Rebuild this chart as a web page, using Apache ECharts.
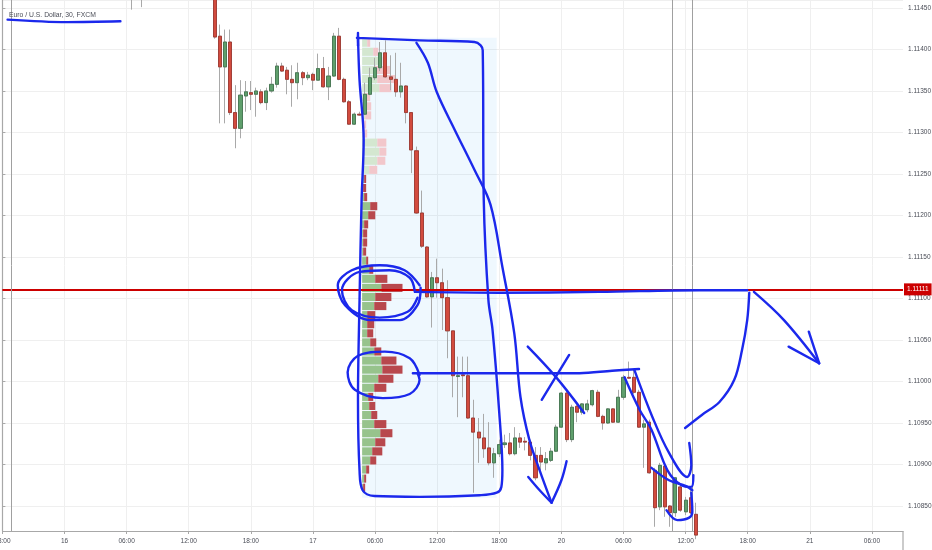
<!DOCTYPE html>
<html><head><meta charset="utf-8">
<script src="https://cdn.jsdelivr.net/npm/echarts@6/dist/echarts.min.js"></script>
<style>html,body{margin:0;padding:0;background:#fff}#c{width:932px;height:550px}</style>
</head><body><div id="c"></div>
<script>
// ---------- data ----------
const title = 'Euro / U.S. Dollar, 30, FXCM';
const barCount = 175;                       // 30-minute slots, 15th 18:00 onward
const tickEvery = 12;                       // one label every 6 hours
const tickLabels = ['18:00','16','06:00','12:00','18:00','17','06:00','12:00','18:00','20','06:00','12:00','18:00','21','06:00'];
const categories = Array.from({length: barCount}, (_, i) => String(i));

const barIdx = [25,27,41,42,43,44,45,46,47,48,49,50,51,52,53,54,55,56,57,58,59,60,61,62,63,64,65,66,67,68,69,70,
  71,72,73,74,75,76,77,78,79,80,81,82,83,84,85,86,87,88,89,90,91,92,93,94,95,96,97,98,99,100,
  101,102,103,104,105,106,107,108,109,110,111,112,113,114,115,116,117,118,119,120,121,122,123,124,125,126,127,128,129,130,131,132,133,134];
const open = [1.11470,1.11462,1.11478,1.11416,1.11379,1.11409,1.11324,1.11305,1.11344,1.11348,1.11346,1.11349,1.11336,1.11350,1.11358,1.11380,1.11375,1.11364,1.11360,1.11372,1.11366,1.11370,1.11363,1.11377,1.11355,1.11368,1.11416,1.11364,1.11337,1.11310,1.11322,1.11322,
  1.11346,1.11366,1.11378,1.11396,1.11367,1.11364,1.11349,1.11356,1.11324,1.11278,1.11203,1.11162,1.11102,1.11125,1.11119,1.11101,1.11061,1.11006,1.11008,1.11007,1.10956,1.10939,1.10932,1.10920,1.10902,1.10913,1.10924,1.10926,1.10913,1.10932,
  1.10928,1.10927,1.10911,1.10911,1.10902,1.10905,1.10916,1.10945,1.10986,1.10930,1.10970,1.10963,1.10966,1.10972,1.10987,1.10958,1.10950,1.10967,1.10951,1.10981,1.11005,1.11005,1.10987,1.10945,1.10951,1.10893,1.10849,1.10898,1.10850,1.10842,1.10873,1.10843,1.10860,1.10840];
const close = [1.11465,1.11470,1.11415,1.11379,1.11409,1.11324,1.11305,1.11345,1.11349,1.11346,1.11350,1.11336,1.11350,1.11358,1.11380,1.11374,1.11364,1.11360,1.11372,1.11366,1.11369,1.11363,1.11377,1.11355,1.11368,1.11416,1.11364,1.11337,1.11310,1.11322,1.11321,1.11346,
  1.11366,1.11378,1.11396,1.11367,1.11364,1.11349,1.11356,1.11324,1.11279,1.11203,1.11163,1.11102,1.11125,1.11119,1.11101,1.11061,1.11007,1.11007,1.11007,1.10956,1.10939,1.10932,1.10919,1.10902,1.10913,1.10924,1.10926,1.10913,1.10932,1.10927,
  1.10927,1.10911,1.10884,1.10903,1.10907,1.10916,1.10945,1.10986,1.10930,1.10969,1.10963,1.10973,1.10973,1.10989,1.10958,1.10950,1.10967,1.10951,1.10981,1.11005,1.11004,1.10987,1.10945,1.10949,1.10890,1.10848,1.10899,1.10849,1.10842,1.10884,1.10845,1.10857,1.10842,1.10815];
const low = [1.11448,1.11451,1.11413,1.11311,1.11311,1.11321,1.11281,1.11293,1.11325,1.11327,1.11319,1.11334,1.11327,1.11348,1.11354,1.11373,1.11346,1.11331,1.11340,1.11357,1.11363,1.11351,1.11363,1.11354,1.11339,1.11367,1.11363,1.11336,1.11309,1.11309,1.11320,1.11321,
  1.11345,1.11363,1.11374,1.11366,1.11351,1.11343,1.11342,1.11311,1.11251,1.11202,1.11161,1.11101,1.11065,1.11101,1.11062,1.11028,1.10981,1.10957,1.10981,1.10955,1.10866,1.10902,1.10908,1.10899,1.10884,1.10909,1.10920,1.10911,1.10911,1.10920,
  1.10917,1.10905,1.10881,1.10893,1.10893,1.10903,1.10915,1.10944,1.10927,1.10927,1.10951,1.10960,1.10963,1.10970,1.10957,1.10942,1.10949,1.10950,1.10950,1.10978,1.11003,1.10985,1.10944,1.10896,1.10889,1.10825,1.10845,1.10837,1.10825,1.10837,1.10843,1.10839,1.10840,1.10810];
const high = [1.11480,1.11478,1.11482,1.11430,1.11424,1.11424,1.11357,1.11363,1.11362,1.11362,1.11354,1.11352,1.11354,1.11367,1.11384,1.11384,1.11379,1.11381,1.11384,1.11374,1.11373,1.11372,1.11395,1.11391,1.11379,1.11420,1.11426,1.11366,1.11339,1.11324,1.11325,1.11360,
  1.11378,1.11390,1.11409,1.11411,1.11393,1.11396,1.11384,1.11357,1.11324,1.11283,1.11230,1.11163,1.11132,1.11148,1.11136,1.11122,1.11061,1.11030,1.11030,1.11030,1.10978,1.10956,1.10961,1.10951,1.10920,1.10930,1.10936,1.10938,1.10945,1.10938,
  1.10933,1.10930,1.10921,1.10921,1.10915,1.10920,1.10948,1.10987,1.10989,1.10972,1.10972,1.10974,1.10978,1.10990,1.10990,1.10960,1.10968,1.10968,1.10990,1.11008,1.11024,1.11014,1.10990,1.10954,1.10954,1.10896,1.10902,1.10899,1.10851,1.10885,1.10875,1.10861,1.10872,1.10854];

const priceMin = 1.108199, priceMax = 1.114596, priceStep = 0.0005;
const levelPrice = 1.11111;

// fixed range volume profile (bars 70..95), 50 rows from the top
const profFirstBar = 70, profLastBar = 95;
const profTop = 1.11413, profRow = 0.0001094, vaHigh = 1.11250;
const profUp   = [500,1100,1600,1200,1500,1700,300,400,300,200,200,1500,1700,1500,700,200,100,200,800,600,200,100,100,100,400,700,1300,1900,1300,1200,500,500,500,800,1200,1900,2000,1600,1200,600,700,900,1200,1800,1300,1000,800,400,200,100];
const profDown = [300,500,400,1600,1800,1200,500,500,600,200,300,900,700,800,800,200,300,300,700,700,400,400,400,300,200,400,1200,2100,1600,1200,800,700,600,600,700,1500,2000,1500,1200,500,600,600,1200,1200,1000,1000,600,300,200,200];
const profWidthShare = 0.3;
const boxTop = 1.11414, boxBottom = 1.10860;

const vLines = [1.7, 129.5, 133.36];

// hand-drawn strokes: [bar position, price]
const strokes = {
  underline: [[1.0,1.11436],[12.5,1.11433],[22.8,1.11434]],
  boxTick: [[68.7,1.11420],[68.7,1.11405]],
  box: [[68.5,1.11414],[80.6,1.11411],[91.2,1.11409],[92.4,1.11405],[92.8,1.11399],[93.0,1.11219],[93.9,1.11098],[94.7,1.11062],[96.0,1.10962],[96.6,1.10893],[96.4,1.10873],[95.5,1.10866],[92.2,1.10863],[80.6,1.10861],[71.9,1.10862],[69.6,1.10869],[69.0,1.10893],[68.7,1.10978],[69.0,1.11098],[69.4,1.11219],[69.8,1.11291],[69.0,1.11363],[68.7,1.11416]],
  diag: [[80.0,1.11408],[82.2,1.11384],[83.9,1.11349],[87.4,1.11303],[91.2,1.11255],[94.3,1.11213],[96.6,1.11138],[98.9,1.11058],[100.1,1.10981],[101.8,1.10930],[103.8,1.10893],[106.1,1.10854]],
  arrowL: [[101.6,1.10885],[103.8,1.10869],[106.1,1.10854]],
  arrowR: [[109.0,1.10904],[108.0,1.10881],[106.1,1.10854]],
  crossA: [[101.5,1.11042],[107.0,1.11005],[112.4,1.10962]],
  crossB: [[109.5,1.11032],[104.2,1.10978]],
  level2: [[79.3,1.11010],[92.2,1.11010],[111.5,1.11010],[117.8,1.11013],[123.0,1.11015]],
  level1: [[79.7,1.11108],[96.0,1.11107],[115.3,1.11108],[134.6,1.11110],[143.9,1.11110]],
  ring1a: [[80.6,1.11116],[77.7,1.11134],[72.9,1.11140],[67.5,1.11134],[64.8,1.11116],[66.2,1.11092],[71.0,1.11074],[76.8,1.11074],[80.2,1.11092],[80.8,1.11113]],
  ring1b: [[79.7,1.11108],[78.7,1.11125],[74.8,1.11134],[69.0,1.11132],[65.6,1.11110],[67.5,1.11086],[72.9,1.11077],[78.3,1.11084],[80.2,1.11101]],
  ring2: [[80.6,1.11008],[78.7,1.11028],[73.9,1.11036],[68.7,1.11031],[66.7,1.11011],[68.1,1.10990],[73.5,1.10980],[78.7,1.10985],[80.6,1.11002],[80.2,1.11010]],
  curveR: [[144.3,1.11107],[143.9,1.11074],[142.9,1.11038],[141.4,1.11002],[138.5,1.10975],[135.2,1.10960],[131.9,1.10944]],
  arrowOut: [[145.2,1.11108],[151.0,1.11074],[157.8,1.11022]],
  arrowOutHeadA: [[151.9,1.11042],[157.8,1.11022]],
  arrowOutHeadB: [[155.8,1.11060],[157.8,1.11022]],
  hook: [[122.1,1.11014],[125.6,1.10957],[128.8,1.10914],[132.3,1.10885],[133.1,1.10899],[132.7,1.10926]],
  inner: [[120.2,1.11005],[123.1,1.10966],[125.4,1.10942],[128.5,1.10893],[131.2,1.10875],[133.1,1.10873],[133.5,1.10887]],
  loop1: [[125.4,1.10896],[128.8,1.10881],[132.1,1.10874],[133.3,1.10869]],
  loop2: [[128.3,1.10845],[130.4,1.10833],[132.7,1.10836],[133.3,1.10843],[133.1,1.10866]]
};

// ---------- layout ----------
const W = 932, H = 550;
const gridLeft = 2.4, gridRight = 29, gridTop = 0, gridBottom = 19;
const plotW = W - gridLeft - gridRight;
const band = plotW / (barCount - 1);
const profLeft = gridLeft + (profFirstBar - 0.5) * band;
const profWidth = (profLastBar - profFirstBar + 1) * band;

const ohlc = new Array(barCount).fill('-');
barIdx.forEach((b, k) => { ohlc[b] = [open[k], close[k], low[k], high[k]]; });
const bodies = ohlc.map(d => d === '-' ? '-' : [d[0], d[1], Math.min(d[0], d[1]), Math.max(d[0], d[1])]);

const profData = profUp.map((u, k) => {
  const hi = profTop - k * profRow;
  return [u, profDown[k], hi - profRow, hi];
});
const profMax = Math.max(...profUp.map((u, k) => u + profDown[k])) / profWidthShare;

const labelTick = i => i % tickEvery === 0;
const FONT = 'Liberation Sans';
const TXT = '#4a4d57';
const GRIDC = '#efefef';
const AXC = '#a8a8a8';
const BLUE = '#1b28ec';

const strokeSeries = Object.keys(strokes).map(name => ({
  name, type: 'line', xAxisIndex: 1, yAxisIndex: 0, data: strokes[name],
  smooth: 0.35, symbol: 'none', silent: true, z: 10, clip: false,
  lineStyle: {color: BLUE, width: 2.4, cap: 'round', join: 'round'}
}));

const chart = echarts.init(document.getElementById('c'), null, {renderer: 'canvas'});
chart.setOption({
  animation: false,
  backgroundColor: '#ffffff',
  textStyle: {fontFamily: FONT},
  title: {text: title, left: 4, top: 7, textStyle: {fontSize: 6.8, fontWeight: 'normal', color: TXT, fontFamily: FONT}},
  grid: [
    {left: gridLeft, right: gridRight, top: gridTop, bottom: gridBottom, containLabel: false, outerBoundsMode: 'none'},
    {left: profLeft, width: profWidth, top: gridTop, bottom: gridBottom, containLabel: false, outerBoundsMode: 'none'}
  ],
  xAxis: [
    {type: 'category', gridIndex: 0, data: categories, boundaryGap: false,
      axisLine: {lineStyle: {color: AXC, width: 1}},
      axisTick: {show: true, interval: (i) => labelTick(i), length: 3, lineStyle: {color: AXC}},
      axisLabel: {interval: (i) => labelTick(i), formatter: (v, i) => tickLabels[i / tickEvery] || '', fontSize: 6.5, color: TXT, margin: 7, fontFamily: FONT, hideOverlap: false},
      splitLine: {show: true, interval: (i) => labelTick(i), lineStyle: {color: GRIDC, width: 1}}},
    {type: 'value', gridIndex: 0, min: 0, max: barCount - 1, show: false},
    {type: 'value', gridIndex: 1, min: 0, max: profMax, show: false}
  ],
  yAxis: [
    {type: 'value', gridIndex: 0, position: 'right', min: priceMin, max: priceMax, minInterval: priceStep, maxInterval: priceStep,
      axisLine: {show: true, lineStyle: {color: AXC, width: 1.2}},
      axisTick: {show: true, length: 3, lineStyle: {color: AXC}},
      axisLabel: {formatter: v => v.toFixed(5), showMinLabel: false, showMaxLabel: false, fontSize: 6.5, color: TXT, margin: 5, fontFamily: FONT},
      splitLine: {show: true, lineStyle: {color: GRIDC, width: 1}}},
    {type: 'value', gridIndex: 1, min: priceMin, max: priceMax, show: false}
  ],
  graphic: [
    {type: 'line', shape: {x1: W - gridRight, y1: H - gridBottom, x2: W - gridRight, y2: H}, style: {stroke: AXC, lineWidth: 1.2}, silent: true}
  ],
  series: [
    {name: 'profile', type: 'custom', xAxisIndex: 2, yAxisIndex: 1, data: profData, z: 2, silent: true,
      encode: {x: [0, 1], y: [2, 3]},
      renderItem: (params, api) => {
        const up = api.value(0), dn = api.value(1), lo = api.value(2), hi = api.value(3);
        const a = api.coord([0, hi]);
        const b = api.coord([up, lo]);
        const c = api.coord([up + dn, lo]);
        const inVA = hi <= vaHigh;
        const h = b[1] - a[1] - 1;
        return {type: 'group', children: [
          {type: 'rect', shape: {x: a[0], y: a[1], width: b[0] - a[0], height: h}, style: {fill: inVA ? '#97c38c' : '#d4e7d0'}},
          {type: 'rect', shape: {x: b[0], y: a[1], width: c[0] - b[0], height: h}, style: {fill: inVA ? '#b8484d' : '#f2c7cb'}}
        ]};
      },
      markArea: {silent: true, itemStyle: {color: 'rgba(33,150,243,0.07)'},
        data: [[{xAxis: 0, yAxis: boxTop}, {xAxis: profMax, yAxis: boxBottom}]]}
    },
    {name: 'wicks', type: 'candlestick', xAxisIndex: 0, yAxisIndex: 0, data: ohlc, barWidth: 3.6, z: 3, silent: true,
      itemStyle: {color: 'rgba(0,0,0,0)', color0: 'rgba(0,0,0,0)', borderColor: '#a9a9a9', borderColor0: '#a9a9a9', borderColorDoji: '#a9a9a9', borderWidth: 1}},
    {name: 'bodies', type: 'candlestick', xAxisIndex: 0, yAxisIndex: 0, data: bodies, barWidth: 3.6, z: 4, silent: true,
      itemStyle: {color: '#5f9f6c', color0: '#d24b3e', borderColor: '#3c714a', borderColor0: '#9a3129', borderColorDoji: '#777', borderWidth: 0.8}},
    {name: 'level', type: 'line', xAxisIndex: 1, yAxisIndex: 0, data: [], z: 6, clip: false, silent: true,
      markLine: {silent: true, symbol: 'none', animation: false, precision: 5,
        lineStyle: {color: '#cc0000', width: 2, type: 'solid'},
        label: {show: true, position: 'end', distance: 1, formatter: levelPrice.toFixed(5), color: '#ffffff', backgroundColor: '#cc0000', padding: [3, 3, 2, 3], fontSize: 6.5, fontFamily: FONT},
        data: [{yAxis: levelPrice}]}},
    {name: 'vlines', type: 'line', xAxisIndex: 1, yAxisIndex: 0, data: [], z: 5, silent: true,
      markLine: {silent: true, symbol: 'none', animation: false, precision: 3, label: {show: false},
        lineStyle: {color: '#a0a0a0', width: 1, type: 'solid'},
        data: vLines.map(v => ({xAxis: v}))}},
    ...strokeSeries
  ]
});
</script></body></html>
